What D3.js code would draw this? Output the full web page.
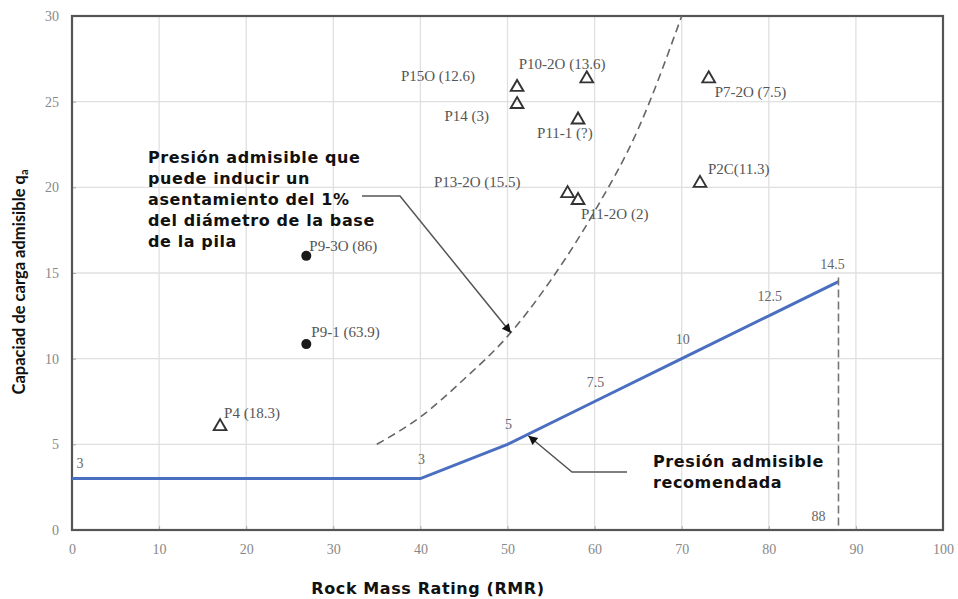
<!DOCTYPE html>
<html>
<head>
<meta charset="utf-8">
<title>Capacidad de carga admisible vs RMR</title>
<script src="https://cdn.jsdelivr.net/npm/d3@7"></script>
<style>
  body { margin: 0; background: #fff; }
  .tick-lbl { font-family: "Liberation Serif", serif; font-size: 14px; fill: #888; }
  .pt-lbl { font-family: "Liberation Serif", serif; font-size: 15px; fill: #555; }
  .note { font-family: "DejaVu Sans", sans-serif; font-weight: bold; font-size: 16px; letter-spacing: 0.6px; fill: #111; }
</style>
</head>
<body>
<script>
// axis ticks
var xTicks = [0, 10, 20, 30, 40, 50, 60, 70, 80, 90, 100]
var yTicks = [0, 5, 10, 15, 20, 25, 30]

// recommended allowable pressure (blue line)
var recRMR = [0, 40, 50, 60, 70, 80, 88]
var recQa = [3, 3, 5, 7.5, 10, 12.5, 14.5]
var recLabels = ['3', '3', '5', '7.5', '10', '12.5', '14.5']

// 1% settlement curve (dashed)
var setRMR = [35, 40, 45, 50, 55, 60, 65, 70]
var setQa = [5.0, 6.6, 8.8, 11.3, 14.6, 18.6, 23.4, 30.0]

// test piles
var pileNames = ['P15O (12.6)', 'P14 (3)', 'P10-2O (13.6)', 'P11-1 (?)', 'P13-2O (15.5)', 'P11-2O (2)',
                 'P7-2O (7.5)', 'P2C(11.3)', 'P9-3O (86)', 'P9-1 (63.9)', 'P4 (18.3)']
var pileRMR = [51.1, 51.1, 59.1, 58.1, 56.9, 58.1, 73.1, 72.1, 26.9, 26.9, 17.0]
var pileQa = [25.9, 24.9, 26.4, 24.0, 19.7, 19.3, 26.4, 20.3, 16.0, 10.85, 6.1]
var pileType = ['tri', 'tri', 'tri', 'tri', 'tri', 'tri', 'tri', 'tri', 'dot', 'dot', 'tri']

// label placement (px offsets from the marker)
var lblDx = [-42, -28, -68, -41, -47, 3, 6, 8, 3, 5, 4]
var lblDy = [-5, 18, -9, 19, -5, 20, 19, -8, -5, -7, -7]
var lblAnchor = ['end', 'end', 'start', 'start', 'end', 'start', 'start', 'start', 'start', 'start', 'start']

var W = 958, H = 599
var margin = { top: 16, right: 15, bottom: 69, left: 72 }
var w = W - margin.left - margin.right
var h = H - margin.top - margin.bottom

var x = d3.scaleLinear().domain([0, 100]).range([0, w])
var y = d3.scaleLinear().domain([0, 30]).range([h, 0])

var svg = d3.select('body').append('svg')
    .attr('width', W)
    .attr('height', H)

svg.append('defs').append('marker')
    .attr('id', 'arrow')
    .attr('viewBox', '0 0 10 10')
    .attr('refX', 10).attr('refY', 5)
    .attr('markerWidth', 15).attr('markerHeight', 9)
    .attr('markerUnits', 'userSpaceOnUse')
    .attr('orient', 'auto')
    .append('path')
    .attr('d', 'M0,0 L10,5 L0,10 Z')
    .attr('fill', '#111')

var g = svg.append('g')
    .attr('transform', 'translate(' + margin.left + ',' + margin.top + ')')

// grid
g.append('g').selectAll('line.vx')
    .data(xTicks.slice(1, -1))
    .enter().append('line')
    .attr('x1', function (d) { return x(d) }).attr('x2', function (d) { return x(d) })
    .attr('y1', 0).attr('y2', h)
    .attr('stroke', '#e0e0e0').attr('stroke-width', 1.3)
g.append('g').selectAll('line.hy')
    .data(yTicks.slice(1, -1))
    .enter().append('line')
    .attr('x1', 0).attr('x2', w)
    .attr('y1', function (d) { return y(d) }).attr('y2', function (d) { return y(d) })
    .attr('stroke', '#e0e0e0').attr('stroke-width', 1.3)

// axes
var xAxis = g.append('g')
    .attr('transform', 'translate(0,' + h + ')')
    .call(d3.axisBottom(x).tickValues(xTicks).tickSize(-4).tickPadding(14))
var yAxis = g.append('g')
    .call(d3.axisLeft(y).tickValues(yTicks).tickSize(-4).tickPadding(13))
xAxis.select('.domain').remove()
yAxis.select('.domain').remove()
xAxis.selectAll('line').attr('stroke', '#aaa')
yAxis.selectAll('line').attr('stroke', '#aaa')
xAxis.selectAll('text').attr('class', 'tick-lbl').attr('fill', null)
yAxis.selectAll('text').attr('class', 'tick-lbl').attr('fill', null)

// frame
g.append('rect')
    .attr('width', w).attr('height', h)
    .attr('fill', 'none')
    .attr('stroke', '#555').attr('stroke-width', 2.2)

// 1% settlement curve
var setData = setRMR.map(function (d, i) { return [d, setQa[i]] })
g.append('path')
    .datum(setData)
    .attr('d', d3.line()
        .x(function (d) { return x(d[0]) })
        .y(function (d) { return y(d[1]) })
        .curve(d3.curveMonotoneX))
    .attr('fill', 'none')
    .attr('stroke', '#666')
    .attr('stroke-width', 1.6)
    .attr('stroke-dasharray', '8,5')

// recommended line
var recData = recRMR.map(function (d, i) { return [d, recQa[i]] })
g.append('path')
    .datum(recData)
    .attr('d', d3.line()
        .x(function (d) { return x(d[0]) })
        .y(function (d) { return y(d[1]) }))
    .attr('fill', 'none')
    .attr('stroke', '#4a6fc0')
    .attr('stroke-width', 3)

// vertical dashed at RMR 88
g.append('line')
    .attr('x1', x(88)).attr('x2', x(88))
    .attr('y1', y(14.5) - 4).attr('y2', h)
    .attr('stroke', '#777').attr('stroke-width', 1.6)
    .attr('stroke-dasharray', '8,4')

g.selectAll('text.rec')
    .data(recData)
    .enter().append('text')
    .attr('class', 'tick-lbl')
    .attr('x', function (d, i) { return x(d[0]) + (i === 0 ? 8 : i === 6 ? -6 : 1) })
    .attr('y', function (d, i) { return y(d[1]) + (i === 0 ? -11 : i === 6 ? -13 : -15) })
    .attr('text-anchor', 'middle')
    .style('fill', '#666')
    .text(function (d, i) { return recLabels[i] })

g.append('text')
    .attr('class', 'tick-lbl')
    .attr('x', x(88) - 20).attr('y', y(0) - 9)
    .attr('text-anchor', 'middle')
    .style('fill', '#666')
    .text('88')

// piles
var piles = pileNames.map(function (n, i) {
    return { name: n, rmr: pileRMR[i], qa: pileQa[i], type: pileType[i] }
})
var tri = d3.symbol().type(d3.symbolTriangle).size(70)
g.selectAll('path.tri')
    .data(piles.filter(function (d) { return d.type === 'tri' }))
    .enter().append('path')
    .attr('d', tri)
    .attr('transform', function (d) { return 'translate(' + x(d.rmr) + ',' + (y(d.qa) + 1) + ')' })
    .attr('fill', 'none')
    .attr('stroke', '#333')
    .attr('stroke-width', 1.9)
g.selectAll('circle.dot')
    .data(piles.filter(function (d) { return d.type === 'dot' }))
    .enter().append('circle')
    .attr('cx', function (d) { return x(d.rmr) })
    .attr('cy', function (d) { return y(d.qa) })
    .attr('r', 5)
    .attr('fill', '#1a1a1a')
g.selectAll('text.pile')
    .data(piles)
    .enter().append('text')
    .attr('class', 'pt-lbl')
    .attr('x', function (d, i) { return x(d.rmr) + lblDx[i] })
    .attr('y', function (d, i) { return y(d.qa) + lblDy[i] })
    .attr('text-anchor', function (d, i) { return lblAnchor[i] })
    .text(function (d) { return d.name })

// annotation: 1% settlement
var note1 = ['Presión admisible que', 'puede inducir un', 'asentamiento del 1%', 'del diámetro de la base', 'de la pila']
g.append('text')
    .attr('class', 'note')
    .selectAll('tspan')
    .data(note1)
    .enter().append('tspan')
    .attr('x', 148 - margin.left)
    .attr('y', function (d, i) { return 163 - margin.top + i * 21 })
    .text(function (d) { return d })
g.append('polyline')
    .attr('points', [[362 - margin.left, 196 - margin.top], [400 - margin.left, 196 - margin.top], [x(50.4), y(11.5)]].join(' '))
    .attr('fill', 'none')
    .attr('stroke', '#555')
    .attr('stroke-width', 1.5)
    .attr('marker-end', 'url(#arrow)')

// annotation: recommended
var note2 = ['Presión admisible', 'recomendada']
g.append('text')
    .attr('class', 'note')
    .selectAll('tspan')
    .data(note2)
    .enter().append('tspan')
    .attr('x', 653 - margin.left)
    .attr('y', function (d, i) { return 467 - margin.top + i * 21 })
    .text(function (d) { return d })
g.append('polyline')
    .attr('points', [[627 - margin.left, 472 - margin.top], [572 - margin.left, 472 - margin.top], [x(52.4), y(5.5)]].join(' '))
    .attr('fill', 'none')
    .attr('stroke', '#555')
    .attr('stroke-width', 1.5)
    .attr('marker-end', 'url(#arrow)')

// axis titles
svg.append('text')
    .attr('x', 428).attr('y', 594)
    .attr('text-anchor', 'middle')
    .style('font-family', '"DejaVu Sans", sans-serif')
    .style('font-weight', 'bold')
    .style('font-size', '16px')
    .style('letter-spacing', '0.6px')
    .style('fill', '#111')
    .text('Rock Mass Rating (RMR)')

var yt = svg.append('text')
    .attr('transform', 'translate(25,282) rotate(-90)')
    .attr('text-anchor', 'middle')
    .style('font-family', 'Lato, sans-serif')
    .style('font-weight', 'bold')
    .style('font-size', '16.5px')
    .style('fill', '#111')
yt.append('tspan').text('Capaciad de carga admisible q')
yt.append('tspan').attr('baseline-shift', '-3').style('font-size', '11px').text('a')
</script>
</body>
</html>
